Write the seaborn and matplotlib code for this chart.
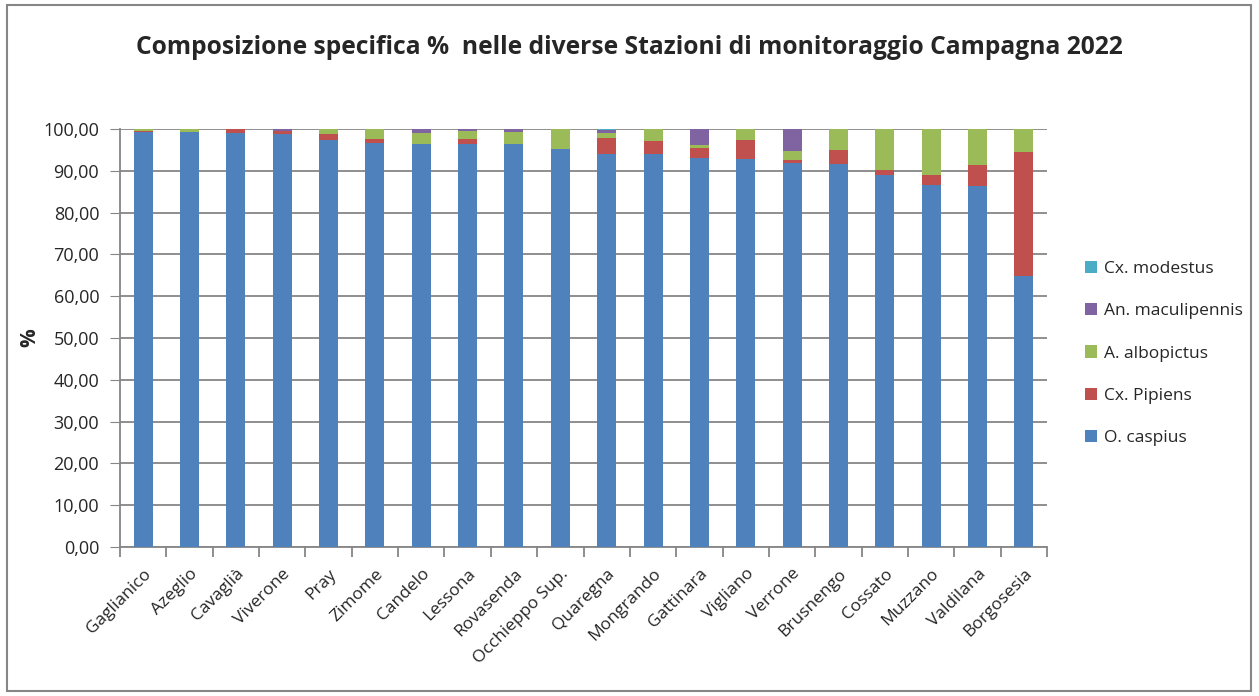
import numpy as np
import pandas as pd
import seaborn as sns
import matplotlib.pyplot as plt
from matplotlib.patches import Rectangle
from matplotlib.ticker import FuncFormatter

# --- Data (percent composition per station) ---
stations = ["Gaglianico", "Azeglio", "Cavaglià", "Viverone", "Pray", "Zimome",
            "Candelo", "Lessona", "Rovasenda", "Occhieppo Sup.", "Quaregna",
            "Mongrando", "Gattinara", "Vigliano", "Verrone", "Brusnengo",
            "Cossato", "Muzzano", "Valdilana", "Borgosesia"]
o_caspius = [99.2, 99.2, 99.1, 98.8, 97.4, 96.7, 96.4, 96.4, 96.4, 95.2,
             93.9, 93.9, 93.0, 92.9, 91.9, 91.6, 89.0, 86.6, 86.3, 64.8]
cx_pipiens = [0.4, 0.1, 0.9, 0.7, 1.4, 1.0, 0.0, 1.2, 0.0, 0.0,
              3.9, 3.2, 2.4, 4.5, 0.6, 3.4, 1.2, 2.3, 5.1, 29.7]
a_albopictus = [0.4, 0.7, 0.0, 0.1, 1.2, 2.3, 2.6, 1.9, 2.9, 4.8,
                1.3, 2.9, 0.8, 2.6, 2.2, 5.0, 9.8, 11.1, 8.6, 5.5]
an_maculipennis = [0.0, 0.0, 0.0, 0.4, 0.0, 0.0, 1.0, 0.5, 0.7, 0.0,
                   0.7, 0.0, 3.8, 0.0, 5.3, 0.0, 0.0, 0.0, 0.0, 0.0]
cx_modestus = [0.0, 0.0, 0.0, 0.0, 0.0, 0.0, 0.0, 0.0, 0.0, 0.0,
               0.2, 0.0, 0.0, 0.0, 0.0, 0.0, 0.0, 0.0, 0.0, 0.0]

species = ["O. caspius", "Cx. Pipiens", "A. albopictus", "An. maculipennis", "Cx. modestus"]
colors = ["#4F81BD", "#C0504D", "#9BBB59", "#8064A2", "#4BACC6"]

df = pd.DataFrame({"Stazione": stations,
                   species[0]: o_caspius,
                   species[1]: cx_pipiens,
                   species[2]: a_albopictus,
                   species[3]: an_maculipennis,
                   species[4]: cx_modestus})

# cumulative sums for stacking
cum = df[species].cumsum(axis=1)
cum["Stazione"] = df["Stazione"]

sns.set_style("white")
plt.rcParams["font.family"] = ["Open Sans", "DejaVu Sans"]

fig = plt.figure(figsize=(12.59, 6.96), dpi=100)
ax = fig.add_axes([120 / 1259, 1 - 547 / 696, 927 / 1259, 418 / 696])

# draw from top of stack down so each segment shows
for sp, col in reversed(list(zip(species, colors))):
    sns.barplot(data=cum, x="Stazione", y=sp, color=col, width=0.41,
                saturation=1, ax=ax, label=sp, zorder=3, linewidth=0,
                edgecolor="none")

ax.set_xlim(-0.5, len(stations) - 0.5)
ax.set_ylim(0, 100)
ax.set_yticks(np.arange(0, 101, 10))
ax.yaxis.set_major_formatter(FuncFormatter(lambda v, p: f"{v:.2f}".replace(".", ",")))
ax.grid(axis="y", color="#868686", linewidth=1.3, zorder=0)
ax.set_axisbelow(True)

for s in ["top", "right"]:
    ax.spines[s].set_visible(False)
ax.spines["left"].set_color("#868686")
ax.spines["bottom"].set_color("#868686")
ax.spines["left"].set_linewidth(1.3)
ax.spines["bottom"].set_linewidth(1.3)

ax.tick_params(axis="y", left=True, length=7, color="#868686", labelsize=13, pad=8)
ax.set_xticks(np.arange(len(stations)))
ax.set_xticklabels(stations, rotation=45, ha="right", rotation_mode="anchor", fontsize=12.5)
ax.tick_params(axis="x", bottom=False, pad=10)
# minor ticks at category boundaries
ax.set_xticks(np.arange(-0.5, len(stations)), minor=True)
ax.tick_params(axis="x", which="minor", bottom=True, length=7, color="#868686", width=1.3)

ax.set_xlabel("")
ax.set_ylabel("%", fontsize=15, fontweight="bold", labelpad=2)

fig.suptitle("Composizione specifica %  nelle diverse Stazioni di monitoraggio Campagna 2022",
             x=0.5, y=1 - 47 / 696, va="center", fontsize=17.7, fontweight="bold")

leg = ax.legend(loc="center left", bbox_to_anchor=(1.024, 0.463), frameon=False,
                fontsize=12.5, handlelength=0.7, handleheight=0.7,
                handletextpad=0.4, labelspacing=1.5)

fig.patches.append(Rectangle((7 / 1259, 5 / 696), 1244 / 1259, 686 / 696,
                             transform=fig.transFigure, fill=False,
                             edgecolor="#868686", linewidth=1.5))

fig.savefig("out.png", dpi=100)
